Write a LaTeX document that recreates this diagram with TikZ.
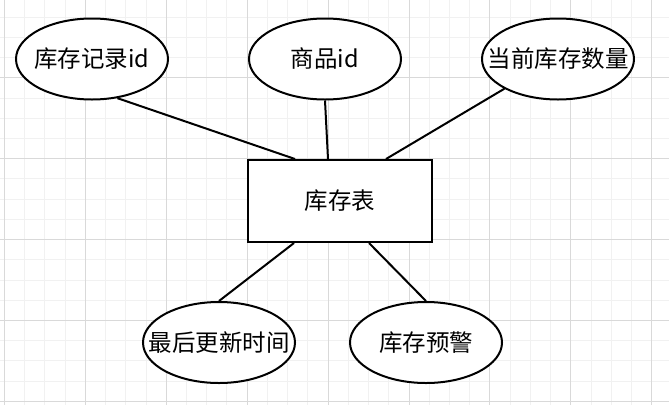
\documentclass[tikz,border=0pt]{standalone}
\usepackage{fontspec}
\newfontfamily\cjk{Noto Sans CJK SC}
\usetikzlibrary{shapes.geometric}
\definecolor{minorc}{HTML}{F1F1F1}
\definecolor{majorc}{HTML}{D9D9D9}
\begin{document}
\begin{tikzpicture}[x=1pt,y=-1pt,
  txt/.style={font=\cjk\fontsize{23.5}{28}\selectfont,inner sep=0pt},
  attr/.style={ellipse,draw,line width=2pt,fill=white,minimum width=152pt,minimum height=81pt,inner sep=0pt},
  ent/.style={rectangle,draw,line width=2pt,fill=white,minimum width=184pt,minimum height=82pt,inner sep=0pt,txt},
  link/.style={line width=2pt},
  minorgrid/.style={draw=minorc,line width=1pt},
  majorgrid/.style={draw=majorc,line width=1pt}]
\useasboundingbox (0,0) rectangle (669,405);
\fill[white] (0,0) rectangle (669,405);
\foreach \i in {0,...,32} {\draw[minorgrid] ({4.5+20.225*\i},0) -- ({4.5+20.225*\i},405);}
\foreach \i in {0,...,20} {\draw[minorgrid] (0,{-3.1+20.225*\i}) -- (669,{-3.1+20.225*\i});}
\foreach \i in {0,4,...,32} {\draw[majorgrid] ({4.5+20.225*\i},0) -- ({4.5+20.225*\i},405);}
\foreach \i in {0,4,...,20} {\draw[majorgrid] (0,{-3.1+20.225*\i}) -- (669,{-3.1+20.225*\i});}

\node[ent] (r) at (340,201) {库存表};
\node[attr,label={[txt]center:库存记录id}] (a1) at (92,59) {};
\node[attr,label={[txt]center:商品id}] (a2) at (325,59) {};
\node[attr,label={[txt]center:当前库存数量}] (a3) at (558,59) {};
\node[attr,label={[txt]center:最后更新时间}] (b1) at (219,342.5) {};
\node[attr,label={[txt]center:库存预警}] (b2) at (426,342.5) {};

\draw[link] (a1.-57) -- ([xshift=-45pt]r.north);
\draw[link] (a2.south) -- ([xshift=-12pt]r.north);
\draw[link] (a3.-151) -- ([xshift=46pt]r.north);
\draw[link] ([xshift=-46pt]r.south) -- (b1.north);
\draw[link] ([xshift=29pt]r.south) -- (b2.north);
\end{tikzpicture}
\end{document}
